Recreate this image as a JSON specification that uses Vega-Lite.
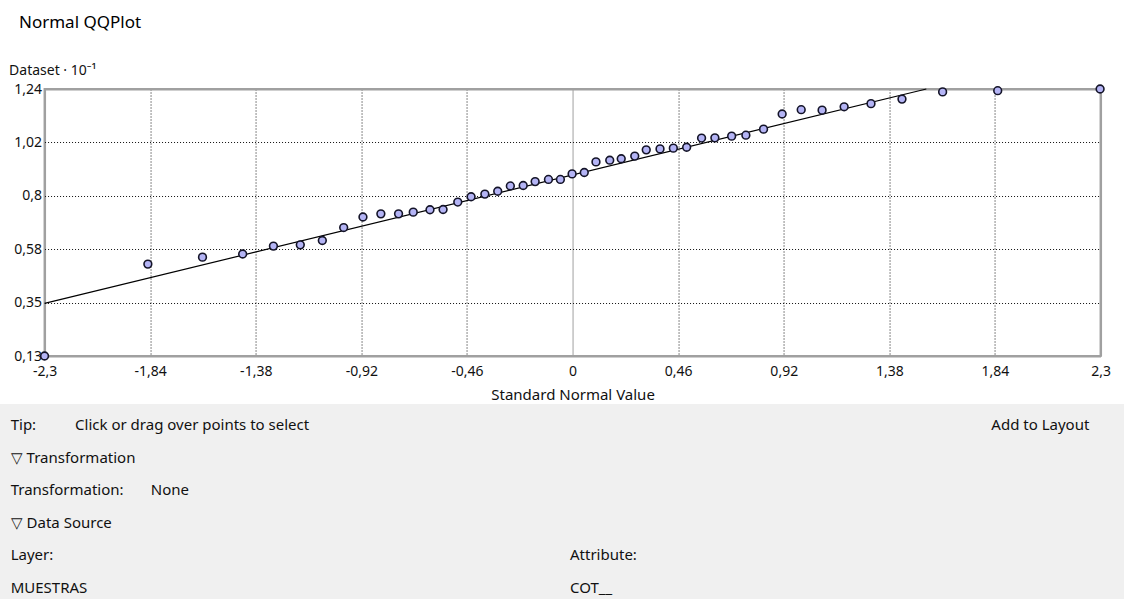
{
  "$schema": "https://vega.github.io/schema/vega-lite/v6.json",
  "background": "white",
  "padding": {"left": 0, "top": 14, "right": 0, "bottom": 0},
  "title": {"text": "Normal QQPlot", "anchor": "start", "fontSize": 17, "fontWeight": "normal", "font": "Noto Sans", "color": "#000000", "offset": 30, "dx": 19},
  "spacing": 1,
  "center": true,
  "config": {"font": "Noto Sans", "view": {"stroke": null}},
  "vconcat": [
    {
      "width": 1056,
      "height": 267,
      "view": {"stroke": "#a0a0a0", "strokeWidth": 2, "fill": "white"},
      "encoding": {
        "x": {
          "field": "z", "type": "quantitative",
          "scale": {"domain": [-2.3, 2.3], "nice": false, "zero": false},
          "axis": {
            "values": [-2.3, -1.84, -1.38, -0.92, -0.46, 0, 0.46, 0.92, 1.38, 1.84, 2.3],
            "labelExpr": "replace(replace(format(datum.value, '.2~f'), '.', ','), '−', '-')",
            "title": "Standard Normal Value",
            "domain": false, "ticks": false, "labelFlush": false, "labelOverlap": false,
            "labelPadding": 8, "labelFontSize": 14, "labelColor": "#111111",
            "titleFontSize": 15, "titleFontWeight": "normal", "titleColor": "#111111", "titlePadding": 9,
            "grid": true,
            "gridColor": {"condition": {"test": "datum.value === 0 || abs(datum.value) === 2.3", "value": "#a0a0a0"}, "value": "#111111"},
            "gridDash": {"condition": {"test": "datum.value === 0 || abs(datum.value) === 2.3", "value": []}, "value": [1, 2]},
            "gridWidth": {"condition": {"test": "abs(datum.value) === 2.3", "value": 2}, "value": 1},
            "gridOpacity": 1
          }
        },
        "y": {
          "field": "value", "type": "quantitative",
          "scale": {"domain": [0.13, 1.24], "nice": false, "zero": false},
          "axis": {
            "values": [0.13, 0.352, 0.574, 0.796, 1.018, 1.24],
            "labelExpr": "datum.value < 0.2 ? '0,13' : datum.value < 0.4 ? '0,35' : datum.value < 0.6 ? '0,58' : datum.value < 0.9 ? '0,8' : datum.value < 1.1 ? '1,02' : '1,24'",
            "title": "Dataset · 10⁻¹",
            "titleAngle": 0, "titleAlign": "left", "titleBaseline": "bottom", "titleX": -36, "titleY": -12,
            "titleFontSize": 14, "titleFontWeight": "normal", "titleColor": "#111111",
            "domain": false, "ticks": false, "labelFlush": false, "labelOverlap": false,
            "labelPadding": 3, "labelFontSize": 14, "labelColor": "#111111",
            "grid": true,
            "gridColor": {"condition": {"test": "datum.value < 0.2 || datum.value > 1.2", "value": "#a0a0a0"}, "value": "#111111"},
            "gridDash": {"condition": {"test": "datum.value < 0.2 || datum.value > 1.2", "value": []}, "value": [1, 2]},
            "gridWidth": {"condition": {"test": "datum.value < 0.2 || datum.value > 1.2", "value": 2}, "value": 1},
            "gridOpacity": 1
          }
        }
      },
      "layer": [
        {
          "data": {"values": [{"z": -2.3, "value": 0.349}, {"z": 1.541, "value": 1.24}]},
          "mark": {"type": "line", "color": "#000000", "strokeWidth": 1.2}
        },
        {
          "data": {"values": [
            {"z": -2.300, "value": 0.130}, {"z": -1.850, "value": 0.512}, {"z": -1.612, "value": 0.541},
            {"z": -1.437, "value": 0.554}, {"z": -1.303, "value": 0.587}, {"z": -1.186, "value": 0.592},
            {"z": -1.090, "value": 0.610}, {"z": -0.997, "value": 0.664}, {"z": -0.913, "value": 0.708},
            {"z": -0.835, "value": 0.721}, {"z": -0.758, "value": 0.721}, {"z": -0.694, "value": 0.728},
            {"z": -0.621, "value": 0.738}, {"z": -0.564, "value": 0.739}, {"z": -0.500, "value": 0.770},
            {"z": -0.442, "value": 0.792}, {"z": -0.382, "value": 0.803}, {"z": -0.326, "value": 0.815},
            {"z": -0.271, "value": 0.837}, {"z": -0.215, "value": 0.839}, {"z": -0.163, "value": 0.855},
            {"z": -0.105, "value": 0.864}, {"z": -0.053, "value": 0.864}, {"z": -0.002, "value": 0.887},
            {"z": 0.051, "value": 0.893}, {"z": 0.102, "value": 0.937}, {"z": 0.162, "value": 0.944},
            {"z": 0.212, "value": 0.950}, {"z": 0.271, "value": 0.961}, {"z": 0.321, "value": 0.987},
            {"z": 0.381, "value": 0.991}, {"z": 0.439, "value": 0.994}, {"z": 0.497, "value": 0.998},
            {"z": 0.562, "value": 1.036}, {"z": 0.620, "value": 1.037}, {"z": 0.693, "value": 1.044},
            {"z": 0.755, "value": 1.048}, {"z": 0.832, "value": 1.073}, {"z": 0.913, "value": 1.136},
            {"z": 0.996, "value": 1.154}, {"z": 1.087, "value": 1.152}, {"z": 1.183, "value": 1.166},
            {"z": 1.300, "value": 1.179}, {"z": 1.435, "value": 1.198}, {"z": 1.612, "value": 1.228},
            {"z": 1.852, "value": 1.233}, {"z": 2.298, "value": 1.240}
          ]},
          "mark": {"type": "point", "shape": "circle", "filled": true, "fill": "#b4b4f5", "stroke": "#141428", "strokeWidth": 1.6, "size": 60, "opacity": 1}
        }
      ]
    },
    {
      "width": 1156,
      "height": 195,
      "view": {"fill": "#f0f0f0", "stroke": null},
      "data": {"values": [
        {"col": "L", "row": 1, "text": "Tip:\u00a0\u00a0\u00a0\u00a0\u00a0\u00a0\u00a0\u00a0\u00a0\u00a0Click or drag over points to select"},
        {"col": "B", "row": 1, "text": "Add to Layout"},
        {"col": "L", "row": 2, "text": "▽ Transformation"},
        {"col": "L", "row": 3, "text": "Transformation:\u00a0\u00a0\u00a0\u00a0\u00a0\u00a0\u00a0None"},
        {"col": "L", "row": 4, "text": "▽ Data Source"},
        {"col": "L", "row": 5, "text": "Layer:"},
        {"col": "R", "row": 5, "text": "Attribute:"},
        {"col": "L", "row": 6, "text": "MUESTRAS"},
        {"col": "R", "row": 6, "text": "COT__"}
      ]},
      "encoding": {
        "x": {"field": "col", "type": "nominal", "scale": {"domain": ["L", "R", "B"]}, "axis": null},
        "y": {"field": "row", "type": "ordinal", "axis": null},
        "text": {"field": "text", "type": "nominal"}
      },
      "layer": [
        {"transform": [{"filter": "datum.col === 'L'"}], "mark": {"type": "text", "align": "left", "dx": -182, "dy": 5, "fontSize": 15, "color": "#111111"}},
        {"transform": [{"filter": "datum.col === 'R'"}], "mark": {"type": "text", "align": "left", "dx": -8, "dy": 5, "fontSize": 15, "color": "#111111"}},
        {"transform": [{"filter": "datum.col === 'B'"}], "mark": {"type": "text", "align": "left", "dx": 28, "dy": 5, "fontSize": 15, "color": "#111111"}}
      ]
    }
  ]
}
